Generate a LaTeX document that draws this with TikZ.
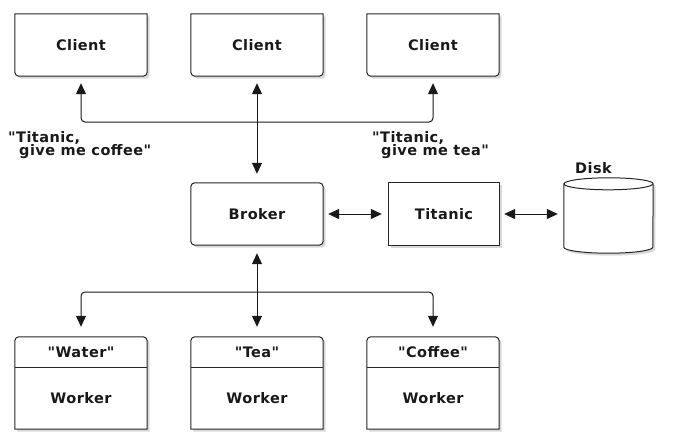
\documentclass[tikz,border=0pt]{standalone}
\usepackage{fontspec}
\newfontfamily\lab[LetterSpace=3]{DejaVu Sans}
\usetikzlibrary{arrows.meta,shadows,backgrounds}
\tikzset{
  txt/.style={font=\lab\bfseries\fontsize{14.5}{14}\selectfont, inner sep=0pt, text=black!90},
  boxn/.style={inner sep=0pt, minimum width=132pt, minimum height=62pt, font=\lab\bfseries\fontsize{14.5}{14}\selectfont, text=black!90},
  shp/.style={draw=black!85, line width=1pt, fill=white,
    drop shadow={shadow xshift=2.5pt, shadow yshift=-2.5pt, opacity=0.3}},
  arr/.style={draw=black!90, line width=1pt,
    {Triangle[length=11pt,width=10pt]}-{Triangle[length=11pt,width=10pt]}},
  clientp/.style={insert path={(#1.north west) -- ([yshift=4pt]#1.south west)
    arc[start angle=180,end angle=270,radius=4pt] -- ([xshift=-4pt]#1.south east)
    arc[start angle=270,end angle=360,radius=4pt] -- (#1.north east) -- cycle}},
  workerp/.style={insert path={(#1.south west) -- ([yshift=-4pt]#1.north west)
    arc[start angle=180,end angle=90,radius=4pt] -- ([xshift=-4pt]#1.north east)
    arc[start angle=90,end angle=0,radius=4pt] -- (#1.south east) -- cycle}},
}
\begin{document}
\begin{tikzpicture}[x=1pt,y=-1pt]
\useasboundingbox (0,0) rectangle (681,439);
% clients
\node[boxn] (c1) at (81,45) {Client};
\node[boxn] (c2) at (257,45) {Client};
\node[boxn] (c3) at (433,45) {Client};
% broker, titanic, disk
\node[boxn] (b) at (257,214) {Broker};
\node[boxn, minimum width=110pt] (t) at (444,214) {Titanic};
\node[inner sep=0pt, minimum width=89pt, minimum height=75pt] (disk) at (608.5,215.5) {};
\node[txt, anchor=base west] (dlab) at (575,173) {Disk};
% workers
\node[boxn, minimum height=92pt] (w1) at (81,383) {};
\node[boxn, minimum height=92pt] (w2) at (257,383) {};
\node[boxn, minimum height=92pt] (w3) at (433,383) {};
\coordinate (dv) at (0,367);
\node[txt] (w1h) at (81,352) {"Water"};
\node[txt] (w2h) at (257,352) {"Tea"};
\node[txt] (w3h) at (433,352) {"Coffee"};
\node[txt] (w1b) at (81,398) {Worker};
\node[txt] (w2b) at (257,398) {Worker};
\node[txt] (w3b) at (433,398) {Worker};
% labels
\node[txt, anchor=base west] (l1a) at (8,142) {"Titanic,};
\node[txt, anchor=base west] (l1b) at (19,155) {give me coffee"};
\node[txt, anchor=base west] (l2a) at (372,142) {"Titanic,};
\node[txt, anchor=base west] (l2b) at (381,155) {give me tea"};
% junctions
\coordinate (hj) at (257,122);
\coordinate (bj) at (257,292);
\begin{pgfonlayer}{background}
  \draw[shp, clientp=c1];
  \draw[shp, clientp=c2];
  \draw[shp, clientp=c3];
  \draw[shp, rounded corners=4pt] (b.north west) rectangle (b.south east);
  \draw[shp] (t.north west) rectangle (t.south east);
  \draw[shp] ([yshift=-6pt]disk.north west) -- ([yshift=6pt]disk.south west)
     arc[x radius=44.5pt, y radius=6pt, start angle=180, end angle=360]
     -- ([yshift=-6pt]disk.north east)
     arc[x radius=44.5pt, y radius=6pt, start angle=0, end angle=180] -- cycle;
  \draw[draw=black!85, line width=1pt] ([yshift=-6pt]disk.north west)
     arc[x radius=44.5pt, y radius=6pt, start angle=180, end angle=360];
  \draw[shp, workerp=w1];
  \draw[shp, workerp=w2];
  \draw[shp, workerp=w3];
  \draw[draw=black!85, line width=1pt] (w1.west |- dv) -- (w1.east |- dv);
  \draw[draw=black!85, line width=1pt] (w2.west |- dv) -- (w2.east |- dv);
  \draw[draw=black!85, line width=1pt] (w3.west |- dv) -- (w3.east |- dv);
\end{pgfonlayer}
% connectors
\draw[arr, rounded corners=4pt] ([yshift=-7pt]c1.south) |- (hj) -| ([yshift=-7pt]c3.south);
\draw[arr] ([yshift=-7pt]c2.south) -- ([yshift=9pt]b.north);
\draw[arr] ([xshift=5pt]b.east) -- ([xshift=-7pt]t.west);
\draw[arr] ([xshift=5pt]t.east) -- ([xshift=-6pt]t.east -| disk.west);
\draw[arr] ([yshift=-8pt]b.south) -- ([yshift=10pt]w2.north);
\draw[arr, rounded corners=4pt] ([yshift=10pt]w1.north) |- (bj) -| ([yshift=10pt]w3.north);
\end{tikzpicture}
\end{document}
